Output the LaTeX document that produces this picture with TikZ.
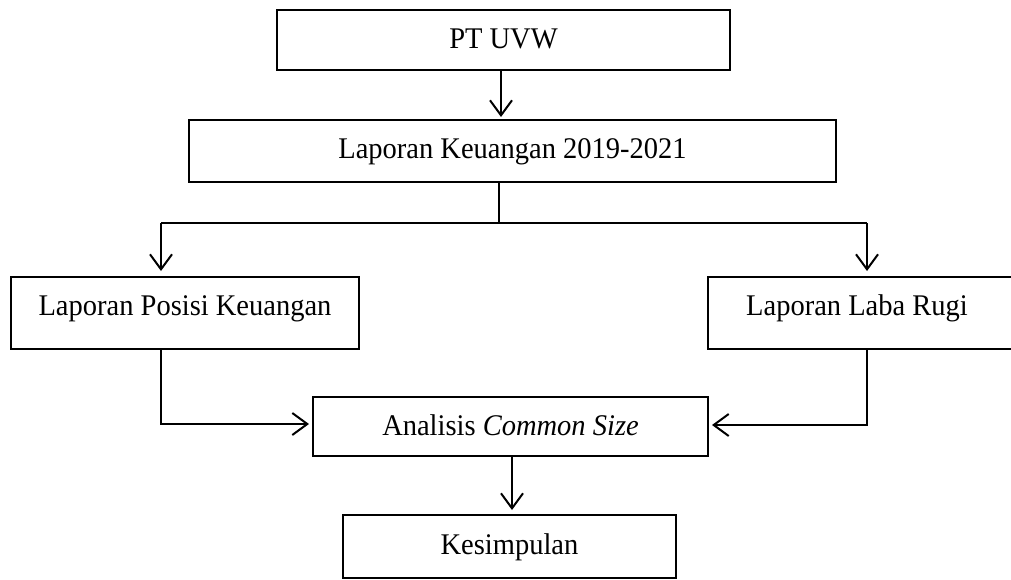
\documentclass[tikz,border=0pt]{standalone}
\usepackage{fontspec}
\setmainfont{Liberation Serif}[FakeStretch=0.95]
\usetikzlibrary{arrows.meta,calc}
\begin{document}
\begin{tikzpicture}[x=1pt,y=-1pt,
  box/.style={draw,line width=2pt,inner sep=0pt,font=\fontsize{30}{31}\selectfont,
    text height=20pt,text depth=6pt},
  arr/.style={-{Straight Barb[length=15pt,width=22pt,line width=2pt]}},
  mainarr/.style={arr,line width=2pt},
  thinline/.style={line width=1.2pt}]
\useasboundingbox (0,0) rectangle (1011,579);
\node[box,minimum width=453pt,minimum height=60pt,text depth=4pt] (pt) at (503.5,40) {PT UVW};
\node[box,minimum width=647pt,minimum height=62pt,text depth=6pt] (lk) at (512.5,151) {Laporan Keuangan 2019-2021};
\node[box,minimum width=348pt,minimum height=72pt,text depth=16pt] (lpk) at (185,313) {Laporan Posisi Keuangan};
\node[box,minimum width=306pt,minimum height=72pt,text depth=16pt,anchor=west] (llr) at (707,313) {\hspace*{-8pt}Laporan Laba Rugi};
\node[box,minimum width=395pt,minimum height=59pt,text depth=3pt] (an) at (510.5,426.5) {Analisis \textit{Common Size}};
\node[box,minimum width=333pt,minimum height=63pt,text depth=5pt] (ks) at (509.5,546.5) {Kesimpulan};
\coordinate (top) at (501,0);
\coordinate (mid) at (499,223);
\coordinate (bl) at (161,223);
\coordinate (bR) at (867,223);
\coordinate (ax) at (512,0);
\draw[mainarr,shorten >=2pt] (pt.south -| top) -- (lk.north -| top);
\draw[thinline] (lk.south -| mid) -- (mid);
\draw[thinline] (bl) -- (bR);
\draw[mainarr,line width=1.6pt,shorten >=5pt] (bl) -- (lpk.north -| bl);
\draw[mainarr,line width=1.6pt,shorten >=5pt] (bR) -- (llr.north -| bR);
\draw[thinline,arr,shorten >=3pt] (lpk.south -| bl) |- ($(an.west)+(0,-2.5)$);
\draw[thinline,arr,shorten >=3pt] (llr.south -| bR) |- ($(an.east)+(0,-1.5)$);
\draw[mainarr,shorten >=4pt] (an.south -| ax) -- (ks.north -| ax);
\end{tikzpicture}
\end{document}
